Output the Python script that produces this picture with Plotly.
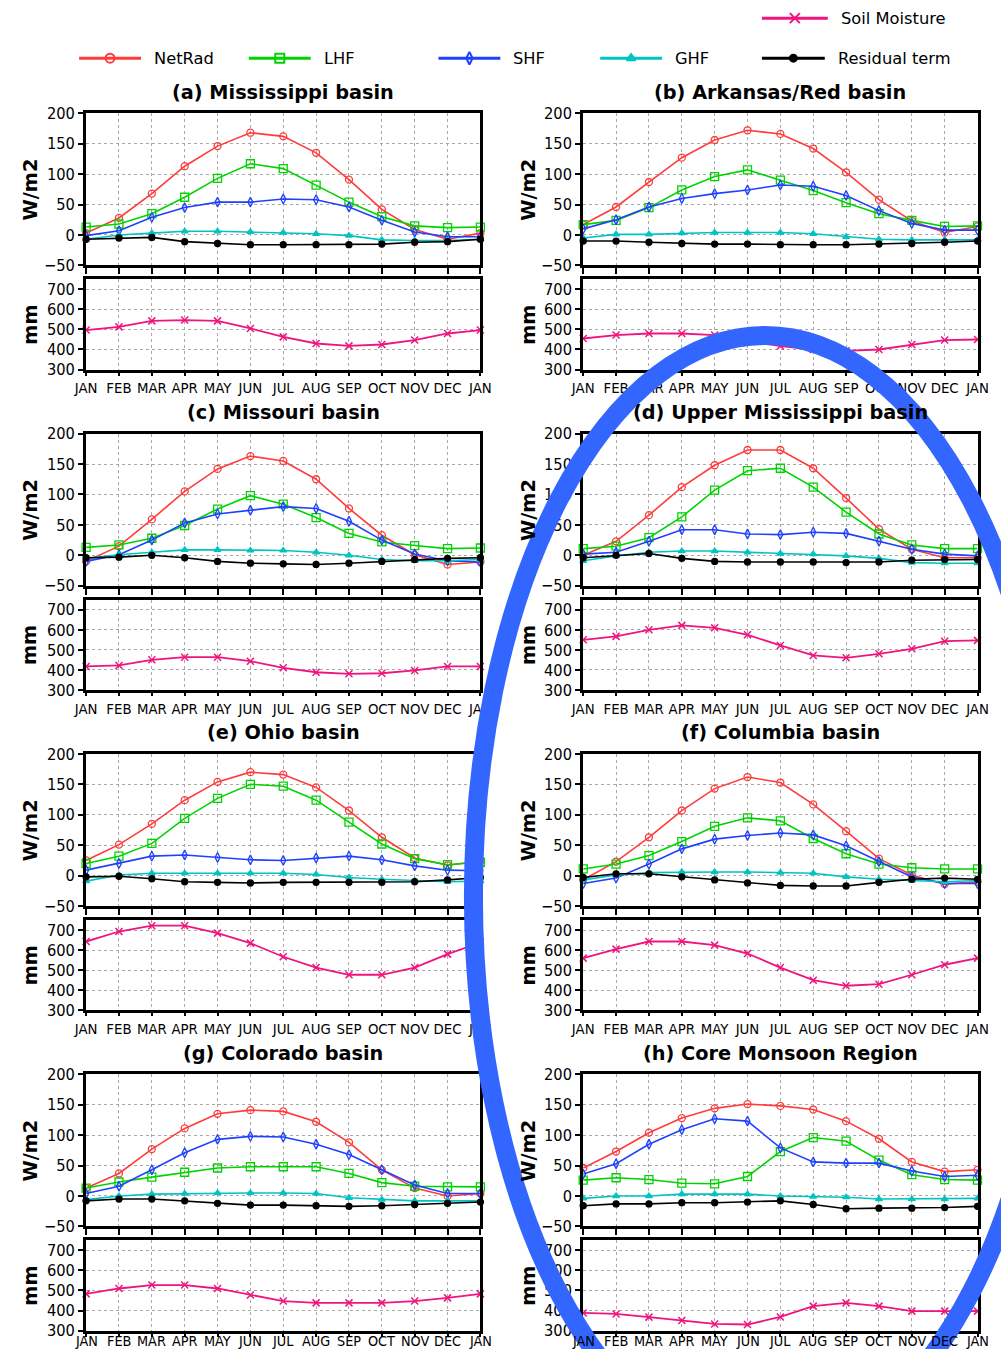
import math
import plotly.graph_objects as go

# ---------------------------------------------------------------------------
# Monthly climatology of the surface energy budget and soil moisture
# ---------------------------------------------------------------------------
months = ["JAN", "FEB", "MAR", "APR", "MAY", "JUN", "JUL",
          "AUG", "SEP", "OCT", "NOV", "DEC", "JAN"]
month_pos = list(range(13))

panel_keys = ["a", "b", "c", "d", "e", "f", "g", "h"]
titles = {
    "a": "(a) Mississippi basin",
    "b": "(b) Arkansas/Red basin",
    "c": "(c) Missouri basin",
    "d": "(d) Upper Mississippi basin",
    "e": "(e) Ohio basin",
    "f": "(f) Columbia basin",
    "g": "(g) Colorado basin",
    "h": "(h) Core Monsoon Region",
}

# Net radiation (W/m2)
netrad = {
    "a": [3, 28, 68, 113, 146, 168, 162, 135, 91, 42, 9, -7, 3],
    "b": [17, 46, 87, 127, 156, 172, 166, 142, 103, 58, 23, 4, 14],
    "c": [-10, 15, 59, 105, 142, 163, 155, 125, 77, 33, 1, -15, -11],
    "d": [0, 23, 66, 112, 148, 173, 173, 143, 94, 43, 10, -4, -4],
    "e": [25, 51, 85, 124, 154, 170, 166, 145, 107, 63, 29, 17, 24],
    "f": [-7, 23, 63, 107, 143, 162, 153, 117, 73, 28, 1, -14, -10],
    "g": [13, 37, 77, 111, 135, 141, 139, 122, 88, 43, 13, 0, 4],
    "h": [46, 73, 104, 128, 144, 151, 148, 142, 123, 94, 56, 40, 43],
}
# Latent heat flux (W/m2)
lhf = {
    "a": [13, 18, 35, 62, 93, 117, 109, 82, 54, 30, 15, 12, 13],
    "b": [17, 24, 45, 74, 96, 107, 90, 73, 53, 35, 24, 14, 15],
    "c": [13, 17, 28, 49, 76, 98, 84, 62, 36, 22, 16, 11, 12],
    "d": [11, 15, 29, 63, 107, 139, 143, 112, 71, 35, 17, 11, 11],
    "e": [20, 32, 53, 94, 127, 150, 147, 124, 88, 52, 28, 18, 22],
    "f": [11, 19, 33, 56, 81, 95, 90, 61, 36, 19, 13, 11, 11],
    "g": [13, 23, 31, 39, 46, 48, 48, 48, 37, 22, 16, 15, 15],
    "h": [26, 30, 27, 21, 20, 32, 73, 96, 90, 59, 35, 27, 26],
}
# Sensible heat flux (W/m2)
shf = {
    "a": [-1, 7, 29, 45, 54, 54, 59, 58, 46, 24, 5, -3, -3],
    "b": [10, 25, 46, 60, 68, 74, 82, 80, 65, 40, 19, 8, 8],
    "c": [-10, 1, 25, 53, 68, 74, 80, 77, 56, 25, 2, -9, -11],
    "d": [2, 5, 23, 42, 42, 35, 34, 38, 36, 23, 10, 2, -1],
    "e": [9, 20, 32, 34, 30, 26, 25, 29, 32, 26, 16, 9, 8],
    "f": [-13, -4, 19, 44, 60, 66, 70, 67, 49, 23, -2, -13, -13],
    "g": [4, 16, 43, 71, 93, 98, 97, 85, 68, 43, 18, 4, 4],
    "h": [36, 53, 85, 109, 127, 123, 79, 56, 54, 54, 41, 32, 34],
}
# Ground heat flux (W/m2)
ghf = {
    "a": [-7, 0, 3, 6, 6, 5, 4, 2, -1, -8, -9, -9, -7],
    "b": [-5, 1, 1, 3, 4, 4, 4, 2, -3, -7, -8, -8, -8],
    "c": [-5, 1, 5, 9, 9, 8, 8, 5, 0, -7, -9, -9, -7],
    "d": [-9, -1, 5, 7, 7, 5, 3, 2, -1, -5, -12, -13, -13],
    "e": [-9, 1, 4, 4, 4, 4, 4, 2, -3, -6, -8, -10, -9],
    "f": [-7, 1, 5, 6, 6, 6, 5, 4, -2, -6, -8, -10, -8],
    "g": [-6, 0, 3, 4, 5, 5, 5, 4, -3, -6, -8, -8, -8],
    "h": [-4, 0, 0, 3, 3, 3, 0, -1, -2, -5, -5, -5, -4],
}
# Residual term of the budget (W/m2)
residual = {
    "a": [-7, -5, -4, -11, -14, -16, -16, -16, -16, -15, -12, -11, -7],
    "b": [-10, -10, -12, -14, -15, -15, -16, -16, -16, -15, -14, -12, -10],
    "c": [-4, -3, 0, -4, -10, -13, -14, -15, -13, -10, -7, -5, -4],
    "d": [-4, 0, 3, -5, -10, -11, -11, -11, -12, -11, -8, -7, -7],
    "e": [-2, -1, -5, -10, -11, -12, -11, -11, -11, -11, -10, -7, -3],
    "f": [-3, 3, 3, -2, -7, -12, -16, -17, -17, -11, -6, -4, -6],
    "g": [-8, -5, -5, -8, -12, -15, -15, -16, -17, -16, -14, -12, -10],
    "h": [-16, -13, -13, -11, -11, -10, -8, -14, -21, -20, -20, -19, -17],
}
# Soil moisture (mm)
soil = {
    "a": [497, 513, 543, 547, 543, 505, 463, 430, 418, 425, 447, 480, 497],
    "b": [455, 472, 480, 480, 472, 443, 417, 400, 393, 400, 425, 447, 450],
    "c": [417, 422, 450, 463, 463, 443, 410, 388, 380, 383, 397, 417, 417],
    "d": [550, 567, 600, 622, 610, 575, 522, 472, 460, 480, 505, 543, 547],
    "e": [643, 693, 722, 722, 685, 635, 567, 513, 477, 477, 513, 580, 638],
    "f": [560, 605, 643, 643, 625, 583, 513, 450, 422, 430, 477, 527, 560],
    "g": [483, 510, 527, 527, 510, 477, 447, 438, 438, 438, 447, 463, 483],
    "h": [388, 383, 367, 350, 333, 330, 368, 422, 438, 422, 397, 397, 397],
}

flux_ticks = [-50, 0, 50, 100, 150, 200]
soil_ticks = [300, 400, 500, 600, 700]

# Series styling
flux_series = [
    ("NetRad", netrad, "#FF3B3B", "circle-open", 7),
    ("LHF", lhf, "#00D400", "square-open", 8),
    ("SHF", shf, "#2040FF", "diamond-tall-open", 7),
    ("GHF", ghf, "#00C4C4", "triangle-up", 6),
    ("Residual term", residual, "#000000", "circle", 6),
]
soil_color = "#F0147F"

# Layout is specified in pixels of a 1001 x 1349 sheet; the page shows the
# figure at scale (SX, SY) with an inset of (MX, MY) figure pixels, so the
# figure is sized and positioned in its own unscaled pixels accordingly.
PAGE_W, PAGE_H = 1001, 1349
SX, SY = 0.979, 0.985
MX, MY = 11.0, 9.0
W = math.ceil(PAGE_W / SX - MX)
H = math.ceil(PAGE_H / SY - MY)
S = (SX + SY) / 2


def fs(size):
    return round(size / S, 1)


NARROW = "Liberation Sans Narrow, DejaVu Sans Condensed, Liberation Sans, sans-serif"
TICK_FONT = dict(family=NARROW, size=fs(16), color="black")
MONTH_FONT = dict(family=NARROW, size=fs(14.5), color="black")
LAST_MONTH_FONT = dict(family=NARROW, size=fs(14), color="black")
TITLE_FONT = dict(family="DejaVu Sans, Liberation Sans, sans-serif", size=fs(19), color="black")
LEGEND_FONT = dict(family="DejaVu Sans, Liberation Sans, sans-serif", size=fs(16), color="black")


def px_x(v):
    return (v / SX - MX) / W


def px_y(v):
    return 1 - (v / SY - MY) / H


fig = go.Figure()
layout = dict(width=W, height=H, margin=dict(l=0, r=0, t=0, b=0),
              paper_bgcolor="white", plot_bgcolor="rgba(0,0,0,0)", showlegend=False)
annotations = []

col_x = [(85, 480), (583, 978)]
axis_common = dict(showline=True, linewidth=3, linecolor="black", mirror=True,
                   showgrid=True, gridcolor="#A8A8A8", griddash="dot", gridwidth=1,
                   zeroline=False, ticks="outside", ticklen=5, tickwidth=2,
                   tickcolor="black")

for i, key in enumerate(panel_keys):
    row, col = divmod(i, 2)
    x0, x1 = col_x[col]
    top0, top1 = 113 + 320 * row, 265 + 320 * row
    bot0, bot1 = 279 + 320 * row, 369 + 320 * row
    n_top, n_bot = 2 * i + 1, 2 * i + 2
    last_row = row == 3

    for n, (ya, yb), is_top in ((n_top, (top0, top1), True), (n_bot, (bot0, bot1), False)):
        xname = "xaxis" if n == 1 else f"xaxis{n}"
        yname = "yaxis" if n == 1 else f"yaxis{n}"
        layout[xname] = dict(axis_common, domain=[px_x(x0), px_x(x1)], anchor=f"y{n}",
                             range=[0, 12], tickmode="array", tickvals=month_pos,
                             ticktext=months,
                             showticklabels=(not is_top) and (not last_row),
                             tickfont=MONTH_FONT, ticklen=6 if is_top else 3)
        layout[yname] = dict(axis_common, domain=[px_y(yb), px_y(ya)], anchor=f"x{n}",
                             range=[-50, 200] if is_top else [300, 750],
                             tickmode="array",
                             tickvals=flux_ticks if is_top else soil_ticks,
                             tickfont=TICK_FONT)

    # month names of the bottom row sit tight against the lower sheet edge
    if last_row:
        for pos, label in zip(month_pos, months):
            annotations.append(dict(text=label, x=pos, xref=f"x{n_bot}",
                                    y=px_y(bot1 + 10), yref="paper", showarrow=False,
                                    xanchor="center", yanchor="middle",
                                    font=LAST_MONTH_FONT))

    for name, data, color, symbol, size in flux_series:
        fig.add_trace(go.Scatter(
            x=month_pos, y=data[key], mode="lines+markers", name=name,
            line=dict(color=color, width=1.6),
            marker=dict(symbol=symbol, size=size, color=color,
                        line=dict(color=color, width=1.3)),
            xaxis=f"x{n_top}", yaxis=f"y{n_top}", cliponaxis=False))
    fig.add_trace(go.Scatter(
        x=month_pos, y=soil[key], mode="lines+markers", name="Soil Moisture",
        line=dict(color=soil_color, width=1.8),
        marker=dict(symbol="x-thin-open", size=7, color=soil_color,
                    line=dict(color=soil_color, width=1.5)),
        xaxis=f"x{n_bot}", yaxis=f"y{n_bot}", cliponaxis=False))

    cx = (x0 + x1) / 2
    annotations.append(dict(text="<b>" + titles[key] + "</b>", x=px_x(cx), y=px_y(top0 - 21),
                            xref="paper", yref="paper", showarrow=False,
                            xanchor="center", yanchor="middle", font=TITLE_FONT))
    lab_x = 29 if col == 0 else 528
    annotations.append(dict(text="<b>W/m2</b>", x=px_x(lab_x), y=px_y((top0 + top1) / 2),
                            xref="paper", yref="paper", showarrow=False, textangle=-90,
                            xanchor="center", yanchor="middle", font=TITLE_FONT))
    annotations.append(dict(text="<b>mm</b>", x=px_x(lab_x), y=px_y((bot0 + bot1) / 2),
                            xref="paper", yref="paper", showarrow=False, textangle=-90,
                            xanchor="center", yanchor="middle", font=TITLE_FONT))

# Overlay canvas in sheet-pixel units for the key and the highlight ring
layout["xaxis17"] = dict(domain=[0, 1], range=[SX * MX, SX * (W + MX)], visible=False,
                         anchor="y17", fixedrange=True, showgrid=False, zeroline=False)
layout["yaxis17"] = dict(domain=[0, 1], range=[SY * (H + MY), SY * MY], visible=False,
                         anchor="x17", fixedrange=True, showgrid=False, zeroline=False)

key_items = [
    ("NetRad", "#FF3B3B", "circle-open", 9, 78, 140, 58),
    ("LHF", "#00D400", "square-open", 9, 248, 310, 58),
    ("SHF", "#2040FF", "diamond-tall-open", 9, 438, 500, 58),
    ("GHF", "#00C4C4", "triangle-up", 8, 600, 662, 58),
    ("Residual term", "#000000", "circle", 7, 762, 825, 58),
    ("Soil Moisture", soil_color, "x-thin-open", 10, 762, 828, 18),
]
for name, color, symbol, size, lx0, lx1, ly in key_items:
    fig.add_trace(go.Scatter(
        x=[lx0, lx1], y=[ly, ly], mode="lines", line=dict(color=color, width=3),
        xaxis="x17", yaxis="y17", hoverinfo="skip"))
    fig.add_trace(go.Scatter(
        x=[(lx0 + lx1) / 2], y=[ly], mode="markers",
        marker=dict(symbol=symbol, size=size, color=color, line=dict(color=color, width=2)),
        xaxis="x17", yaxis="y17", hoverinfo="skip"))
    annotations.append(dict(text=name, x=lx1 + 11, y=ly, xref="x17", yref="y17",
                            showarrow=False, xanchor="left", yanchor="middle",
                            font=LEGEND_FONT))

layout["annotations"] = annotations
layout["shapes"] = [dict(type="circle", xref="x17", yref="y17",
                         x0=765 - 292, x1=765 + 292, y0=335, y1=335 + 2 * 560,
                         line=dict(color="#3366FF", width=19), layer="above")]

fig.update_layout(**layout)
fig.write_html("out.html")
